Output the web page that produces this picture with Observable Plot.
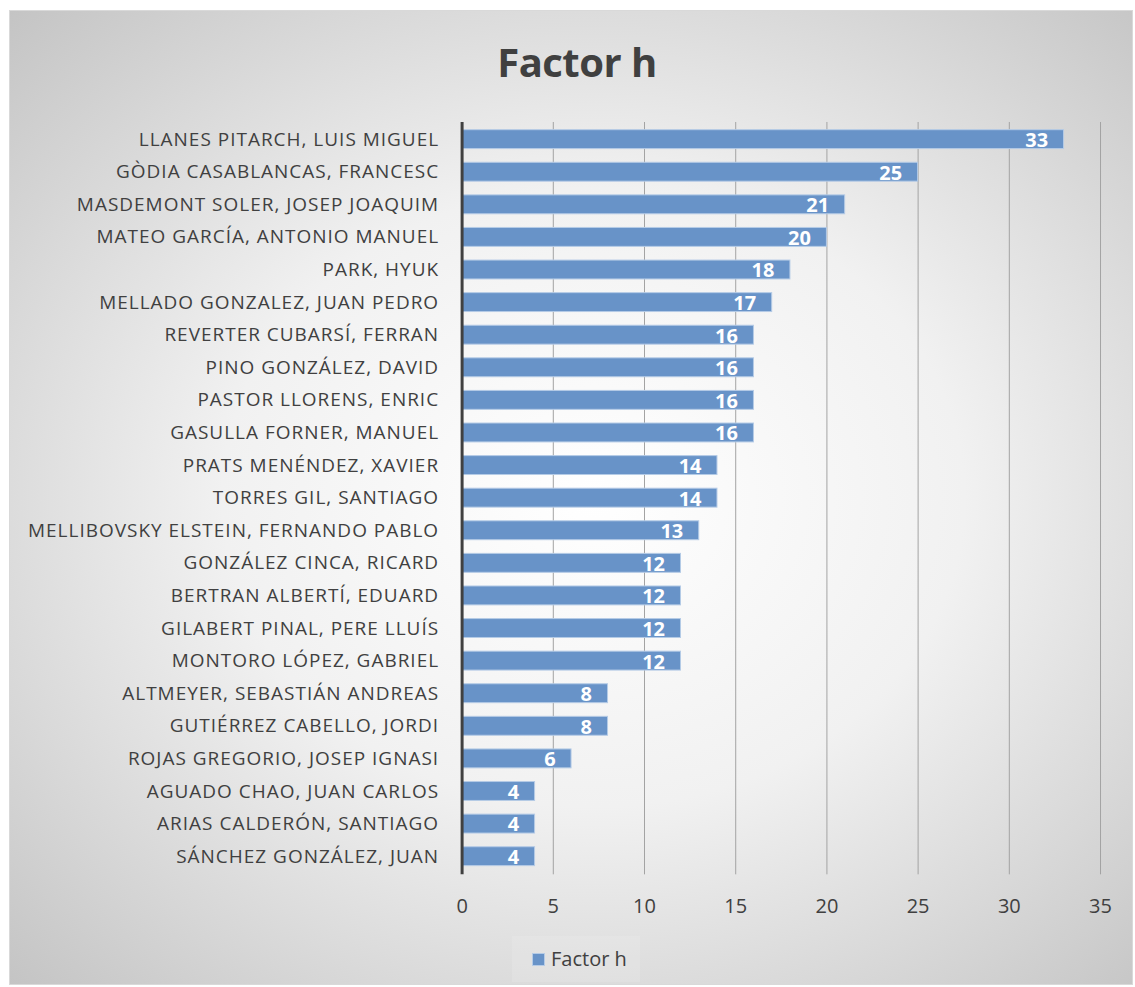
<!DOCTYPE html>
<html><head><meta charset="utf-8">
<script src="https://cdn.jsdelivr.net/npm/d3@7"></script>
<script src="https://cdn.jsdelivr.net/npm/@observablehq/plot@0.6"></script>
<style>
body{margin:0;background:#fff;}
#chart{position:absolute;left:9px;top:10px;width:1124px;height:975px;box-sizing:border-box;border:1px solid #d9d9d9;
background:radial-gradient(ellipse farthest-corner at 52% 50%, #ffffff 0%, #f1f1f1 45%, #c4c4c4 100%);
font-family:"Open Sans",sans-serif;color:#404040;overflow:hidden;}
#title{position:absolute;left:6px;width:100%;top:27px;text-align:center;font-weight:bold;font-size:40px;line-height:48px;color:#404040;letter-spacing:-0.5px;}
#plot{position:absolute;left:-1px;top:99px;}
#plot g[aria-label="y-axis tick label"] text{letter-spacing:1px;}
#legend{position:absolute;left:502px;top:925px;width:128px;height:46px;background:rgba(255,255,255,0.12);}
#legend .sw{position:absolute;left:20px;top:17px;width:13px;height:13px;background:#6893c8;border:1px solid #b5cbe6;box-sizing:border-box;}
#legend .lb{position:absolute;left:39px;top:9px;font-size:20px;line-height:28px;color:#404040;}
</style>
</head><body>
<div id="chart">
  <div id="title">Factor h</div>
  <div id="plot"></div>
  <div id="legend"><div class="sw"></div><div class="lb">Factor h</div></div>
</div>
<script>
const names = [
  "LLANES PITARCH, LUIS MIGUEL",
  "GÒDIA CASABLANCAS, FRANCESC",
  "MASDEMONT SOLER, JOSEP JOAQUIM",
  "MATEO GARCÍA, ANTONIO MANUEL",
  "PARK, HYUK",
  "MELLADO GONZALEZ, JUAN PEDRO",
  "REVERTER CUBARSÍ, FERRAN",
  "PINO GONZÁLEZ, DAVID",
  "PASTOR LLORENS, ENRIC",
  "GASULLA FORNER, MANUEL",
  "PRATS MENÉNDEZ, XAVIER",
  "TORRES GIL, SANTIAGO",
  "MELLIBOVSKY ELSTEIN, FERNANDO PABLO",
  "GONZÁLEZ CINCA, RICARD",
  "BERTRAN ALBERTÍ, EDUARD",
  "GILABERT PINAL, PERE LLUÍS",
  "MONTORO LÓPEZ, GABRIEL",
  "ALTMEYER, SEBASTIÁN ANDREAS",
  "GUTIÉRREZ CABELLO, JORDI",
  "ROJAS GREGORIO, JOSEP IGNASI",
  "AGUADO CHAO, JUAN CARLOS",
  "ARIAS CALDERÓN, SANTIAGO",
  "SÁNCHEZ GONZÁLEZ, JUAN"
];
const values = [33, 25, 21, 20, 18, 17, 16, 16, 16, 16, 14, 14, 13, 12, 12, 12, 12, 8, 8, 6, 4, 4, 4];
const xTicks = [0, 5, 10, 15, 20, 25, 30, 35];
const gridTicks = [5, 10, 15, 20, 25, 30, 35];

const data = names.map((n, i) => ({name: n, value: values[i]}));

const chart = Plot.plot({
  width: 1124,
  height: 840,
  marginLeft: 453,
  marginRight: 32,
  marginTop: 6,
  marginBottom: 70,
  style: {background: "transparent", fontFamily: "'Open Sans', sans-serif", color: "#404040"},
  x: {domain: [0, 35], label: null},
  y: {domain: names, padding: 0.42, round: false, label: null},
  marks: [
    Plot.ruleX(gridTicks, {stroke: "#a3a3a3", strokeWidth: 1, insetTop: 6, insetBottom: 5}),
    Plot.barX(data, {y: "name", x: "value", fill: "#6893c8", stroke: "#b5cbe6", strokeWidth: 1}),
    Plot.ruleX([0], {stroke: "#404040", strokeWidth: 3, insetTop: 6, insetBottom: 5}),
    Plot.text(data, {y: "name", x: "value", text: d => String(d.value), textAnchor: "end", dx: -16, dy: 1,
      fill: "white", fontWeight: "bold", fontSize: 20}),
    Plot.axisY({tickSize: 0, tickPadding: 23, fontSize: 19, fill: "#404040"}),
    Plot.axisX({ticks: xTicks, tickSize: 0, tickPadding: 19, fontSize: 20, fill: "#404040", tickFormat: d => String(d)})
  ]
});
document.getElementById("plot").appendChild(chart);
</script>
</body></html>
